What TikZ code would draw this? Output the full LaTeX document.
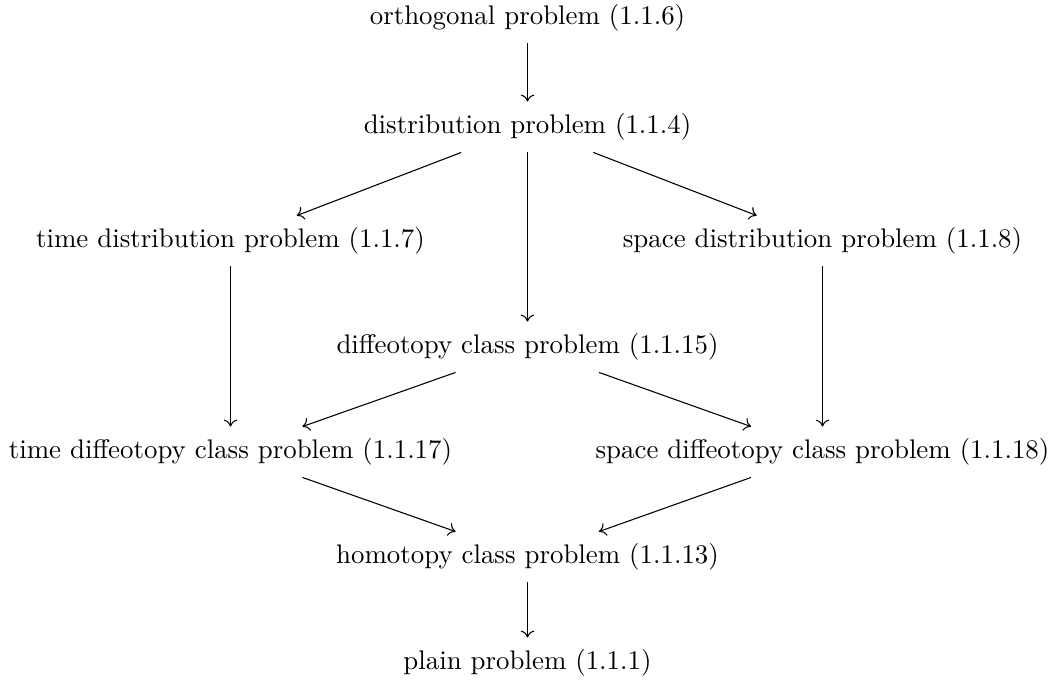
\documentclass[tikz,border=0pt]{standalone}
\usetikzlibrary{arrows.meta}
\begin{document}
\begin{tikzpicture}[x=0.372pt,y=-0.372pt,
  lab/.style={inner sep=0pt, outer sep=4.46pt, anchor=center, text height=7.5pt, text depth=2.5pt},
  arr/.style={-{Computer Modern Rightarrow[length=2.6pt,width=5pt]}, line width=0.4pt}]
\useasboundingbox (0,0) rectangle (1049,679);
\node[lab] (orth) at (527.5,18) {orthogonal problem (1.1.6)};
\node[lab] (dist) at (527.5,127) {distribution problem (1.1.4)};
\node[lab] (tdist) at (230.5,241) {time distribution problem (1.1.7)};
\node[lab] (sdist) at (822.5,241) {space distribution problem (1.1.8)};
\node[lab] (diff) at (527.5,347) {diffeotopy class problem (1.1.15)};
\node[lab] (tdiff) at (230.5,452) {time diffeotopy class problem (1.1.17)};
\node[lab] (sdiff) at (822.5,452) {space diffeotopy class problem (1.1.18)};
\node[lab] (homo) at (527.5,557) {homotopy class problem (1.1.13)};
\node[lab] (plain) at (527.5,663) {plain problem (1.1.1)};

\draw[arr] (orth) -- (dist);
\draw[arr] (dist) -- (tdist);
\draw[arr] (dist) -- (diff);
\draw[arr] (dist) -- (sdist);
\draw[arr] (tdist) -- (tdiff);
\draw[arr] (sdist) -- (sdiff);
\draw[arr] (diff) -- (tdiff);
\draw[arr] (diff) -- (sdiff);
\draw[arr] (tdiff) -- (homo);
\draw[arr] (sdiff) -- (homo);
\draw[arr] (homo) -- (plain);
\end{tikzpicture}
\end{document}
